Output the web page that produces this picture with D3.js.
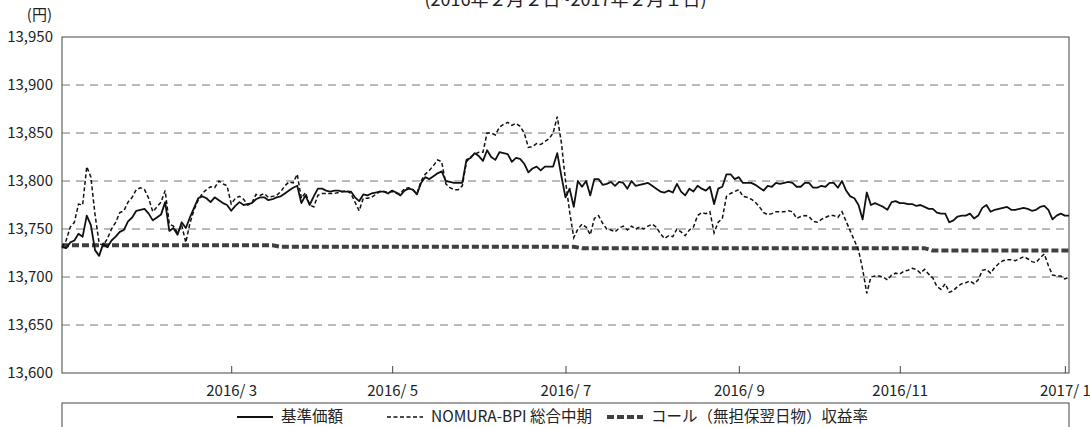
<!DOCTYPE html>
<html>
<head>
<meta charset="utf-8">
<script src="https://cdn.jsdelivr.net/npm/d3@7"></script>
<style>
  body { margin: 0; background: #fff; }
  text { font-family: "Noto Sans CJK JP", "Noto Sans", sans-serif; fill: #222; }
</style>
</head>
<body>
<svg id="chart" width="1090" height="427"></svg>
<script>
// 営業日ベースの並び (2016/2/2 ～ 2017/2/1)
var yTicks = [13600, 13650, 13700, 13750, 13800, 13850, 13900, 13950];
var xTickIdx = [41, 80, 122, 164, 203, 243];
var xTickLabels = ["2016/ 3", "2016/ 5", "2016/ 7", "2016/ 9", "2016/11", "2017/ 1"];

// 基準価額
var kijun = [
  13731,13730,13736,13738,13745,13742,13764,13754,13728,13722,
  13735,13731,13738,13742,13747,13749,13758,13762,13769,13770,
  13771,13766,13759,13762,13765,13778,13748,13751,13744,13757,
  13751,13762,13772,13782,13784,13782,13778,13783,13780,13777,
  13775,13769,13774,13778,13775,13776,13777,13781,13783,13783,
  13780,13781,13783,13784,13787,13790,13793,13795,13777,13785,
  13775,13784,13792,13792,13790,13789,13790,13790,13789,13789,
  13789,13783,13779,13786,13785,13787,13788,13789,13789,13787,
  13790,13788,13785,13790,13792,13791,13786,13798,13804,13802,
  13805,13808,13810,13800,13799,13798,13798,13798,13822,13824,
  13829,13826,13821,13832,13825,13822,13830,13829,13828,13820,
  13824,13823,13818,13809,13813,13815,13811,13815,13815,13815,
  13829,13805,13783,13792,13773,13800,13794,13800,13785,13802,
  13802,13796,13797,13799,13795,13799,13798,13792,13800,13795,
  13796,13797,13798,13795,13792,13789,13788,13790,13788,13797,
  13789,13785,13792,13789,13795,13792,13790,13794,13776,13792,
  13794,13807,13807,13802,13804,13798,13798,13798,13796,13793,
  13790,13795,13794,13798,13797,13798,13799,13798,13794,13794,
  13798,13798,13793,13793,13795,13794,13798,13798,13793,13800,
  13790,13784,13782,13775,13760,13788,13775,13777,13775,13773,
  13770,13778,13779,13777,13777,13776,13776,13774,13775,13773,
  13771,13771,13767,13766,13766,13757,13759,13763,13764,13764,
  13766,13761,13764,13772,13775,13768,13770,13771,13772,13773,
  13770,13770,13771,13772,13771,13769,13770,13773,13774,13770,
  13760,13764,13766,13764,13764
];

// NOMURA-BPI 総合中期
var nomura = [
  13731,13738,13752,13757,13776,13775,13815,13804,13765,13735,
  13733,13740,13750,13757,13767,13769,13778,13783,13791,13793,
  13791,13782,13768,13773,13778,13790,13755,13753,13746,13754,
  13736,13756,13770,13780,13787,13791,13794,13793,13800,13797,
  13795,13776,13782,13784,13781,13775,13777,13786,13785,13787,
  13783,13784,13785,13789,13795,13799,13798,13807,13782,13788,
  13775,13773,13785,13787,13787,13787,13787,13788,13789,13790,
  13787,13778,13769,13782,13782,13783,13786,13789,13789,13788,
  13789,13787,13787,13792,13793,13791,13787,13800,13807,13811,
  13816,13822,13820,13797,13793,13791,13791,13795,13820,13825,
  13828,13830,13830,13850,13850,13848,13856,13859,13861,13858,
  13860,13857,13850,13835,13836,13839,13838,13841,13844,13850,
  13867,13840,13800,13768,13741,13750,13755,13752,13744,13761,
  13764,13756,13750,13749,13747,13751,13753,13749,13753,13750,
  13752,13750,13753,13755,13752,13745,13740,13743,13742,13750,
  13747,13743,13749,13752,13764,13767,13766,13768,13746,13757,
  13761,13784,13787,13789,13791,13784,13783,13781,13778,13773,
  13767,13765,13766,13768,13768,13768,13769,13768,13761,13763,
  13764,13763,13758,13757,13760,13762,13764,13764,13762,13768,
  13758,13748,13738,13728,13708,13683,13700,13701,13701,13700,
  13697,13702,13704,13703,13706,13707,13709,13708,13704,13708,
  13703,13699,13690,13687,13693,13684,13686,13690,13693,13694,
  13696,13693,13697,13707,13708,13704,13710,13714,13717,13718,
  13718,13717,13719,13721,13719,13716,13715,13720,13724,13712,
  13702,13701,13701,13698,13700
];

// コール（無担保翌日物）収益率 : 変化点のみ
var callIdx = [0, 51, 53, 124, 126, 209, 211, 244];
var callVal = [13733, 13733, 13731.5, 13731.5, 13730, 13730, 13727.5, 13727.5];

var legendNames = ["基準価額", "NOMURA-BPI 総合中期", "コール（無担保翌日物）収益率"];

var svg = d3.select("#chart");
var plotL = 62, plotR = 1069, plotT = 37, plotB = 373;

var x = d3.scaleLinear().domain([0, kijun.length - 1]).range([plotL, plotR]);
var y = d3.scaleLinear().domain([13600, 13950]).range([plotB, plotT]);

// タイトル（上端で切れている）
svg.append("text")
  .attr("x", (plotL + plotR) / 2).attr("y", 6)
  .attr("text-anchor", "middle")
  .style("font-size", "18px")
  .text("(2016年２月２日~2017年２月１日)");

svg.append("text")
  .attr("x", 52).attr("y", 15).attr("dy", "0.35em")
  .attr("text-anchor", "end")
  .style("font-size", "15px")
  .text("(円)");

// 目盛線
svg.append("g").selectAll("line")
  .data(yTicks.slice(1, -1))
  .enter().append("line")
  .attr("x1", plotL).attr("x2", plotR)
  .attr("y1", function(d) { return y(d); })
  .attr("y2", function(d) { return y(d); })
  .attr("stroke", "#777")
  .attr("stroke-width", 1)
  .attr("stroke-dasharray", "8,6");

// y軸
var yAxis = svg.append("g")
  .attr("transform", "translate(" + plotL + ",0)")
  .call(d3.axisLeft(y).tickValues(yTicks).tickSize(0).tickPadding(9).tickFormat(d3.format(",")));
yAxis.select(".domain").remove();
yAxis.selectAll("text").style("font-size", "15px").attr("fill", "#222");

// x軸（内向き目盛）
var xAxis = svg.append("g")
  .attr("transform", "translate(0," + plotB + ")")
  .call(d3.axisBottom(x).tickValues(xTickIdx)
    .tickFormat(function(d, i) { return xTickLabels[i]; })
    .tickSizeInner(-7).tickSizeOuter(0).tickPadding(12));
xAxis.select(".domain").remove();
xAxis.selectAll("line").attr("stroke", "#444");
xAxis.selectAll("text").style("font-size", "15px").attr("fill", "#222");

// 枠
svg.append("rect")
  .attr("x", plotL).attr("y", plotT)
  .attr("width", plotR - plotL).attr("height", plotB - plotT)
  .attr("fill", "none").attr("stroke", "#444").attr("stroke-width", 1);

var line = d3.line()
  .x(function(d, i) { return x(i); })
  .y(function(d) { return y(d); });

var callPts = callIdx.map(function(d, i) { return {i: d, v: callVal[i]}; });
svg.append("path")
  .datum(callPts)
  .attr("d", d3.line().x(function(d) { return x(d.i); }).y(function(d) { return y(d.v); }))
  .attr("fill", "none")
  .attr("stroke", "#404040")
  .attr("stroke-width", 4)
  .attr("stroke-dasharray", "7,3");

svg.append("path")
  .datum(nomura)
  .attr("d", line)
  .attr("fill", "none")
  .attr("stroke", "#111")
  .attr("stroke-width", 1.5)
  .attr("stroke-dasharray", "4,2.5");

svg.append("path")
  .datum(kijun)
  .attr("d", line)
  .attr("fill", "none")
  .attr("stroke", "#111")
  .attr("stroke-width", 1.8)
  .attr("stroke-linejoin", "round");

// 凡例
svg.append("rect")
  .attr("x", plotL).attr("y", 403)
  .attr("width", plotR - plotL).attr("height", 40)
  .attr("fill", "none").attr("stroke", "#444").attr("stroke-width", 1);

var legendX = [237, 387, 607];
var legendStyle = [
  {w: 1.8, dash: null, color: "#111"},
  {w: 1.5, dash: "4,2.5", color: "#111"},
  {w: 4, dash: "7,3", color: "#404040"}
];
var lg = svg.append("g").selectAll("g")
  .data(legendNames)
  .enter().append("g")
  .attr("transform", function(d, i) { return "translate(" + legendX[i] + ",417)"; });
lg.append("line")
  .attr("x1", 0).attr("x2", 36)
  .attr("stroke", function(d, i) { return legendStyle[i].color; })
  .attr("stroke-width", function(d, i) { return legendStyle[i].w; })
  .attr("stroke-dasharray", function(d, i) { return legendStyle[i].dash; });
lg.append("text")
  .attr("x", 44).attr("dy", "0.35em")
  .style("font-size", "15.5px")
  .text(function(d) { return d; });
</script>
</body>
</html>
